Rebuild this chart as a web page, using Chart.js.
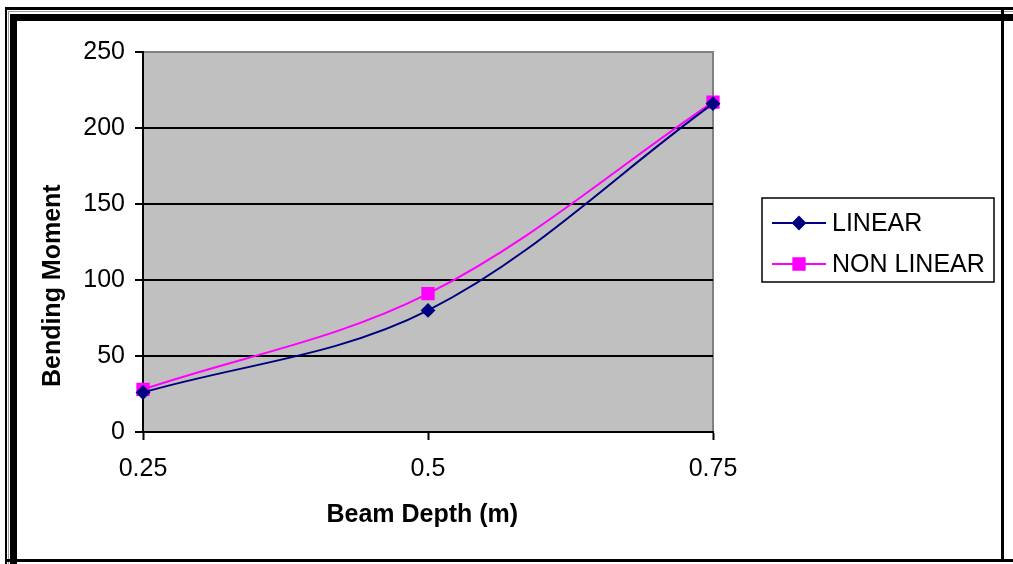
<!DOCTYPE html>
<html>
<head>
<meta charset="utf-8">
<script src="https://cdn.jsdelivr.net/npm/chart.js@4/dist/chart.umd.min.js"></script>
<style>
    body { margin: 0; background: #fff; }
    #wrap { position: relative; width: 1013px; height: 564px; overflow: hidden; }
    #chart { position: absolute; left: 0; top: 0; }
    .edge { position: absolute; background: #000; }
    .grey { position: absolute; background: #9a9a9a; }
</style>
</head>
<body>
<div id="wrap">
    <canvas id="chart" width="1013" height="564"></canvas>
    <!-- рамка вокруг картинки -->
    <div class="edge" style="left:5px; top:7px; width:1008px; height:3px;"></div>
    <div class="edge" style="left:5px; top:7px; width:2px; height:557px;"></div>
    <div class="grey" style="left:8px; top:11px; width:1005px; height:1px;"></div>
    <div class="grey" style="left:8px; top:11px; width:1px; height:553px;"></div>
    <div class="edge" style="left:10px; top:14px; width:1003px; height:7px;"></div>
    <div class="edge" style="left:10px; top:14px; width:7px; height:550px;"></div>
    <div class="edge" style="left:1001px; top:7px; width:3px; height:555px;"></div>
    <div class="edge" style="left:5px; top:559px; width:1008px; height:3px;"></div>
</div>
<script>
const categories = ['0.25', '0.5', '0.75'];
const linearValues = [26, 80, 216];
const nonLinearValues = [28, 91, 217];
const yMin = 0;
const yMax = 250;
const yStep = 50;

const FONT = "'Liberation Sans', Arial, sans-serif";

// серый фон области построения
const plotBackground = {
    id: 'plotBackground',
    beforeDraw(chart) {
        const { ctx, chartArea: a } = chart;
        ctx.save();
        ctx.fillStyle = '#C0C0C0';
        ctx.fillRect(a.left, a.top, a.right - a.left, a.bottom - a.top);
        ctx.strokeStyle = '#808080';
        ctx.lineWidth = 2;
        ctx.beginPath();
        ctx.moveTo(a.left, a.top);
        ctx.lineTo(a.right, a.top);
        ctx.lineTo(a.right, a.bottom);
        ctx.stroke();
        ctx.restore();
    }
};

// подписи осей
const axisTitles = {
    id: 'axisTitles',
    afterDraw(chart) {
        const { ctx, chartArea: a } = chart;
        ctx.save();
        ctx.fillStyle = '#000';
        ctx.font = 'bold 25px ' + FONT;
        ctx.textAlign = 'center';
        ctx.textBaseline = 'middle';
        ctx.fillText('Beam Depth (m)', a.left + (a.right - a.left) * 0.49, 515);
        ctx.translate(53, a.top + (a.bottom - a.top) * 0.615);
        ctx.rotate(-Math.PI / 2);
        ctx.fillText('Bending Moment', 0, 0);
        ctx.restore();
    }
};

// легенда в рамке, как в Excel
const boxLegend = {
    id: 'boxLegend',
    afterDraw(chart) {
        const { ctx } = chart;
        const box = { x: 762, y: 198, w: 232, h: 84 };
        ctx.save();
        ctx.fillStyle = '#fff';
        ctx.fillRect(box.x, box.y, box.w, box.h);
        ctx.strokeStyle = '#000';
        ctx.lineWidth = 1.5;
        ctx.strokeRect(box.x, box.y, box.w, box.h);
        ctx.font = '25px ' + FONT;
        ctx.textBaseline = 'middle';
        ctx.textAlign = 'left';
        chart.data.datasets.forEach((ds, i) => {
            const y = 223 + i * 41;
            ctx.strokeStyle = ds.borderColor;
            ctx.lineWidth = 2;
            ctx.beginPath();
            ctx.moveTo(772, y);
            ctx.lineTo(826, y);
            ctx.stroke();
            Chart.helpers.drawPoint(ctx, {
                pointStyle: ds.pointStyle,
                radius: ds.pointRadius,
                borderWidth: 1
            }, 799, y);
            ctx.fillStyle = ds.pointBackgroundColor;
            ctx.fill();
            ctx.fillStyle = '#000';
            ctx.fillText(ds.label, 832, y + 1);
        });
        ctx.restore();
    }
};

new Chart(document.getElementById('chart'), {
    type: 'line',
    data: {
        labels: categories,
        datasets: [{
            label: 'LINEAR',
            data: linearValues,
            borderColor: '#000080',
            backgroundColor: '#000080',
            pointBackgroundColor: '#000080',
            pointBorderColor: '#000080',
            pointStyle: 'rectRot',
            pointRadius: 6,
            borderWidth: 2,
            tension: 0.35,
            clip: false
        }, {
            label: 'NON LINEAR',
            data: nonLinearValues,
            borderColor: '#FF00FF',
            backgroundColor: '#FF00FF',
            pointBackgroundColor: '#FF00FF',
            pointBorderColor: '#FF00FF',
            pointStyle: 'rect',
            pointRadius: 8,
            borderWidth: 2,
            tension: 0.35,
            clip: false
        }]
    },
    options: {
        responsive: false,
        animation: false,
        layout: {
            padding: { left: 0, top: 52, right: 300, bottom: 0 }
        },
        plugins: {
            legend: { display: false },
            tooltip: { enabled: false }
        },
        scales: {
            x: {
                offset: false,
                afterFit: (s) => { s.height = 132; },
                grid: {
                    drawOnChartArea: false,
                    drawTicks: true,
                    tickLength: 8,
                    tickColor: '#000',
                    tickWidth: 2
                },
                border: { color: '#000', width: 2 },
                ticks: {
                    color: '#000',
                    padding: 14,
                    maxRotation: 0,
                    font: { family: FONT, size: 25 }
                }
            },
            y: {
                min: yMin,
                max: yMax,
                afterFit: (s) => { s.width = 143; },
                grid: {
                    color: (c) => c.tick && c.tick.value === yMax ? 'rgba(0,0,0,0)' : '#000',
                    lineWidth: 2,
                    tickLength: 8,
                    tickColor: '#000',
                    tickWidth: 2
                },
                border: { color: '#000', width: 2 },
                ticks: {
                    stepSize: yStep,
                    color: '#000',
                    padding: 10,
                    font: { family: FONT, size: 25 }
                }
            }
        }
    },
    plugins: [plotBackground, axisTitles, boxLegend]
});
</script>
</body>
</html>
